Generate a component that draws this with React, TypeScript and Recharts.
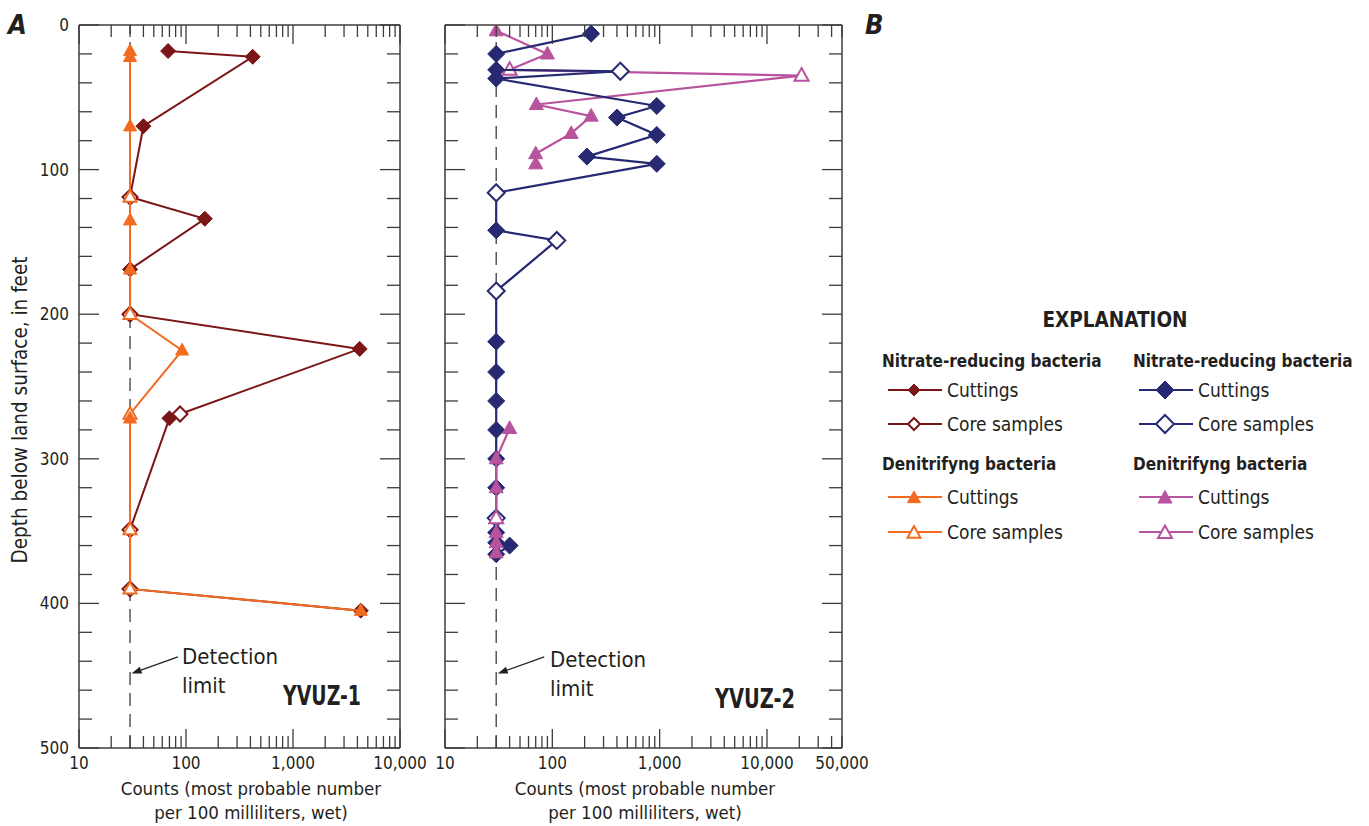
import { ScatterChart, Scatter, XAxis, YAxis, ReferenceLine } from 'recharts'

const FONT = "'DejaVu Sans Condensed', 'Liberation Sans Narrow', 'DejaVu Sans', sans-serif"
const INK = '#231f20'
const AXIS = '#3c3c3c'

const RED = '#7b1517'
const ORANGE = '#f26b21'
const NAVY = '#272a72'
const PINK = '#b8539e'

// YVUZ-1, nitrate-reducing bacteria (core = 1 for core samples, 0 for cuttings)
const nitrate1Depth = [18, 22, 70, 119, 134, 169, 200, 224, 269, 272, 349, 390, 405]
const nitrate1Count = [68, 420, 40, 30, 150, 30, 30, 4200, 88, 70, 30, 30, 4300]
const nitrate1Core = [0, 0, 0, 1, 0, 0, 1, 0, 1, 0, 1, 1, 0]

// YVUZ-1, denitrifying bacteria
const denit1Depth = [18, 22, 70, 119, 135, 169, 200, 225, 269, 272, 349, 390, 405]
const denit1Count = [30, 30, 30, 30, 30, 30, 30, 92, 30, 30, 30, 30, 4300]
const denit1Core = [0, 0, 0, 1, 0, 0, 1, 0, 1, 0, 1, 1, 0]

// YVUZ-2, nitrate-reducing bacteria
const nitrate2Depth = [6, 20, 31, 32, 37, 56, 64, 76, 91, 96, 116, 142, 149, 184, 219, 240, 260, 280, 300, 320, 341, 351, 358, 360, 366]
const nitrate2Count = [230, 30, 30, 430, 30, 940, 400, 940, 210, 940, 30, 30, 110, 30, 30, 30, 30, 30, 30, 30, 30, 30, 30, 40, 30]
const nitrate2Core = [0, 0, 0, 1, 0, 0, 0, 0, 0, 0, 1, 0, 1, 1, 0, 0, 0, 0, 0, 0, 1, 0, 0, 0, 0]

// YVUZ-2, denitrifying bacteria (two separate profiles)
const denit2TopDepth = [4, 20, 31, 35, 55, 63, 75, 89, 96]
const denit2TopCount = [30, 90, 40, 21000, 71, 230, 150, 70, 70]
const denit2TopCore = [0, 0, 1, 1, 0, 0, 0, 0, 0]

const denit2BotDepth = [279, 300, 320, 341, 351, 358, 365]
const denit2BotCount = [40, 30, 30, 30, 30, 30, 30]
const denit2BotCore = [0, 0, 0, 1, 0, 0, 0]

const detectionLimit = 30

// axes
const depthTicks = [0, 20, 40, 60, 80, 100, 120, 140, 160, 180, 200, 220, 240, 260, 280, 300, 320, 340, 360, 380, 400, 420, 440, 460, 480, 500]
const depthLabels = [0, 100, 200, 300, 400, 500]
const steps = [1, 2, 3, 4, 5, 6, 7, 8, 9]
const countTicks1 = [...[10, 100, 1000].flatMap((d) => steps.map((s) => s * d)), 10000]
const countTicks2 = [...[10, 100, 1000].flatMap((d) => steps.map((s) => s * d)), 10000, 20000, 30000, 40000, 50000]
const countLabels1 = [10, 100, 1000, 10000]
const countLabels2 = [10, 100, 1000, 10000, 50000]

// arrow for "Detection limit" note: [from, to]
const arrowFrom = { x: 84, y: 437 }
const arrowTo = { x: 31, y: 448.5 }

const build = (depth: number[], count: number[], core: number[]) =>
  depth.map((d, i) => ({ depth: d, count: count[i], core: core[i] === 1 }))

const isPow10 = (v: number) => Math.abs(Math.log10(v) - Math.round(Math.log10(v))) < 1e-9
const fmt = (v: number) => v.toLocaleString('en-US')

const diamond = (cx: number, cy: number, r: number, color: string, open: boolean) => (
  <path
    d={`M${cx},${cy - r}L${cx + r},${cy}L${cx},${cy + r}L${cx - r},${cy}Z`}
    fill={open ? '#fff' : color}
    stroke={color}
    strokeWidth={open ? 2 : 1}
  />
)

const triangle = (cx: number, cy: number, w: number, color: string, open: boolean) => {
  const h = w * 0.9
  return (
    <path
      d={`M${cx},${cy - h * 0.6}L${cx + w / 2},${cy + h * 0.4}L${cx - w / 2},${cy + h * 0.4}Z`}
      fill={open ? '#fff' : color}
      stroke={color}
      strokeWidth={open ? 2 : 1}
      strokeLinejoin="miter"
    />
  )
}

const diamondShape = (r: number, color: string) => (p: any) =>
  diamond(p.cx, p.cy, r, color, !!p.payload?.core)
const triangleShape = (w: number, color: string) => (p: any) =>
  triangle(p.cx, p.cy, w, color, !!p.payload?.core)

const BottomTick = (p: any) => {
  const v = p.payload.value
  const len = isPow10(v) ? 19 : 12
  return (
    <g>
      <line x1={p.x} x2={p.x} y1={p.y} y2={p.y - len} stroke={AXIS} strokeWidth={1.3} />
      {p.labels.includes(v) && (
        <text x={p.x} y={p.y + 21} textAnchor="middle" fontSize={17} fill={INK} fontFamily={FONT}>
          {fmt(v)}
        </text>
      )}
    </g>
  )
}

const TopTick = (p: any) => {
  const len = isPow10(p.payload.value) ? 19 : 12
  return <line x1={p.x} x2={p.x} y1={p.y} y2={p.y + len} stroke={AXIS} strokeWidth={1.3} />
}

const LeftTick = (p: any) => {
  const v = p.payload.value
  const major = v % 100 === 0
  return (
    <g>
      <line x1={p.x} x2={p.x + (major ? 20 : 13)} y1={p.y} y2={p.y} stroke={AXIS} strokeWidth={1.3} />
      {p.labels && major && (
        <text x={p.x - 10} y={p.y + 6} textAnchor="end" fontSize={17} fill={INK} fontFamily={FONT}>
          {v}
        </text>
      )}
    </g>
  )
}

const RightTick = (p: any) => {
  const major = p.payload.value % 100 === 0
  return <line x1={p.x} x2={p.x - (major ? 20 : 13)} y1={p.y} y2={p.y} stroke={AXIS} strokeWidth={1.3} />
}

const arrowShape = (p: any) => {
  const { x1, y1, x2, y2 } = p
  const a = Math.atan2(y2 - y1, x2 - x1)
  const L = 10
  const W = 3.5
  const bx = x2 - L * Math.cos(a)
  const by = y2 - L * Math.sin(a)
  const px = -Math.sin(a) * W
  const py = Math.cos(a) * W
  return (
    <g>
      <line x1={x1} y1={y1} x2={bx} y2={by} stroke={INK} strokeWidth={1.2} />
      <path d={`M${x2},${y2}L${bx + px},${by + py}L${bx - px},${by - py}Z`} fill={INK} />
    </g>
  )
}

type Panel = {
  width: number
  leftW: number
  rightW: number
  domain: [number, number]
  ticks: number[]
  labels: number[]
  showDepthLabels: boolean
  children: React.ReactNode
}

const PanelChart = ({ width, leftW, rightW, domain, ticks, labels, showDepthLabels, children }: Panel) => (
  <ScatterChart width={width} height={826} margin={{ top: 0, right: 0, bottom: 0, left: 0 }} style={{ fontFamily: FONT }}>
    <XAxis
      xAxisId="b"
      dataKey="count"
      type="number"
      scale="log"
      domain={domain}
      allowDataOverflow
      ticks={ticks}
      interval={0}
      height={78}
      tickSize={0}
      tickMargin={0}
      tickLine={false}
      axisLine={{ stroke: AXIS, strokeWidth: 1.5 }}
      tick={(p: any) => <BottomTick {...p} labels={labels} />}
    />
    <XAxis
      xAxisId="t"
      orientation="top"
      dataKey="count"
      type="number"
      scale="log"
      domain={domain}
      allowDataOverflow
      ticks={ticks}
      interval={0}
      height={25}
      tickSize={0}
      tickMargin={0}
      tickLine={false}
      axisLine={{ stroke: AXIS, strokeWidth: 1.5 }}
      tick={(p: any) => <TopTick {...p} />}
    />
    <YAxis
      yAxisId="l"
      dataKey="depth"
      type="number"
      reversed
      domain={[0, 500]}
      allowDataOverflow
      ticks={depthTicks}
      interval={0}
      width={leftW}
      tickSize={0}
      tickMargin={0}
      tickLine={false}
      axisLine={{ stroke: AXIS, strokeWidth: 1.5 }}
      tick={(p: any) => <LeftTick {...p} labels={showDepthLabels ? depthLabels : null} />}
    />
    <YAxis
      yAxisId="r"
      orientation="right"
      dataKey="depth"
      type="number"
      reversed
      domain={[0, 500]}
      allowDataOverflow
      ticks={depthTicks}
      interval={0}
      width={rightW}
      tickSize={0}
      tickMargin={0}
      tickLine={false}
      axisLine={{ stroke: AXIS, strokeWidth: 1.5 }}
      tick={(p: any) => <RightTick {...p} />}
    />
    <ReferenceLine
      xAxisId="b"
      yAxisId="l"
      x={detectionLimit}
      stroke="#4a4a4a"
      strokeWidth={1.4}
      strokeDasharray="13 8"
    />
    <ReferenceLine xAxisId="b" yAxisId="l" segment={[arrowFrom, arrowTo]} shape={arrowShape} />
    {children}
  </ScatterChart>
)

const T = (props: any) => <text fontFamily={FONT} fill={INK} {...props} />

const legendMarker = (x: number, y: number, color: string, kind: 'd' | 't', open: boolean, size: number) => (
  <g>
    <line x1={x + 6} x2={x + 60} y1={y} y2={y} stroke={color} strokeWidth={2.2} />
    {kind === 'd' ? diamond(x + 32, y, size, color, open) : triangle(x + 32, y + 1, size, color, open)}
  </g>
)

const LegendRow = ({ x, y, marker, label }: { x: number; y: number; marker: React.ReactNode; label: string }) => (
  <g>
    {marker}
    <T x={x + 65} y={y + 7} fontSize={19}>
      {label}
    </T>
  </g>
)

const LegendColumn = ({ x, c1, c2, dSize, tSize }: { x: number; c1: string; c2: string; dSize: number; tSize: number }) => (
  <g>
    <T x={x} y={367} fontSize={17} fontWeight="bold">
      Nitrate-reducing bacteria
    </T>
    <LegendRow x={x} y={390} marker={legendMarker(x, 390, c1, 'd', false, dSize)} label="Cuttings" />
    <LegendRow x={x} y={424} marker={legendMarker(x, 424, c1, 'd', true, dSize)} label="Core samples" />
    <T x={x} y={470} fontSize={17} fontWeight="bold">
      Denitrifyng bacteria
    </T>
    <LegendRow x={x} y={497} marker={legendMarker(x, 497, c2, 't', false, tSize)} label="Cuttings" />
    <LegendRow x={x} y={532} marker={legendMarker(x, 532, c2, 't', true, tSize)} label="Core samples" />
  </g>
)

export default function App() {
  return (
    <div style={{ position: 'absolute', left: 0, top: 0, width: 1369, height: 826, background: '#fff', fontFamily: FONT }}>
      <div style={{ position: 'absolute', left: 0, top: 0 }}>
        <PanelChart width={435} leftW={79} rightW={35} domain={[10, 10000]} ticks={countTicks1} labels={countLabels1} showDepthLabels>
          <Scatter
            xAxisId="b"
            yAxisId="l"
            data={build(nitrate1Depth, nitrate1Count, nitrate1Core)}
            line={{ stroke: RED, strokeWidth: 2 }}
            shape={diamondShape(7.5, RED)}
            isAnimationActive={false}
          />
          <Scatter
            xAxisId="b"
            yAxisId="l"
            data={build(denit1Depth, denit1Count, denit1Core)}
            line={{ stroke: ORANGE, strokeWidth: 2 }}
            shape={triangleShape(13, ORANGE)}
            isAnimationActive={false}
          />
        </PanelChart>
      </div>
      <div style={{ position: 'absolute', left: 435, top: 0 }}>
        <PanelChart width={440} leftW={10} rightW={33} domain={[10, 50000]} ticks={countTicks2} labels={countLabels2} showDepthLabels={false}>
          <Scatter
            xAxisId="b"
            yAxisId="l"
            data={build(denit2TopDepth, denit2TopCount, denit2TopCore)}
            line={{ stroke: PINK, strokeWidth: 2.2 }}
            shape={triangleShape(14, PINK)}
            isAnimationActive={false}
          />
          <Scatter
            xAxisId="b"
            yAxisId="l"
            data={build(nitrate2Depth, nitrate2Count, nitrate2Core)}
            line={{ stroke: NAVY, strokeWidth: 2.2 }}
            shape={diamondShape(8.5, NAVY)}
            isAnimationActive={false}
          />
          <Scatter
            xAxisId="b"
            yAxisId="l"
            data={build(denit2BotDepth, denit2BotCount, denit2BotCore)}
            line={{ stroke: PINK, strokeWidth: 2.2 }}
            shape={triangleShape(14, PINK)}
            isAnimationActive={false}
          />
        </PanelChart>
      </div>
      <svg width={1369} height={826} style={{ position: 'absolute', left: 0, top: 0, pointerEvents: 'none' }}>
        <T x={8} y={34} fontSize={27} fontWeight="bold" fontStyle="italic">A</T>
        <T x={865} y={34} fontSize={27} fontWeight="bold" fontStyle="italic">B</T>
        <T x={27} y={410} fontSize={20.5} textAnchor="middle" transform="rotate(-90 27 410)">
          Depth below land surface, in feet
        </T>
        <T x={251} y={795} fontSize={18.5} textAnchor="middle">Counts (most probable number</T>
        <T x={251} y={819} fontSize={18.5} textAnchor="middle">per 100 milliliters, wet)</T>
        <T x={645} y={795} fontSize={18.5} textAnchor="middle">Counts (most probable number</T>
        <T x={645} y={819} fontSize={18.5} textAnchor="middle">per 100 milliliters, wet)</T>
        <T x={182} y={664} fontSize={22}>Detection</T>
        <T x={182} y={693} fontSize={22}>limit</T>
        <T x={550} y={667} fontSize={22}>Detection</T>
        <T x={550} y={696} fontSize={22}>limit</T>
        <T x={283} y={705} fontSize={26} fontWeight="bold" textLength={78} lengthAdjust="spacingAndGlyphs">YVUZ-1</T>
        <T x={715} y={708} fontSize={26} fontWeight="bold" textLength={80} lengthAdjust="spacingAndGlyphs">YVUZ-2</T>
        <T x={1115} y={327} fontSize={20.5} fontWeight="bold" textAnchor="middle">EXPLANATION</T>
        <LegendColumn x={882} c1={RED} c2={ORANGE} dSize={6} tSize={13} />
        <LegendColumn x={1133} c1={NAVY} c2={PINK} dSize={9} tSize={14} />
      </svg>
    </div>
  )
}
